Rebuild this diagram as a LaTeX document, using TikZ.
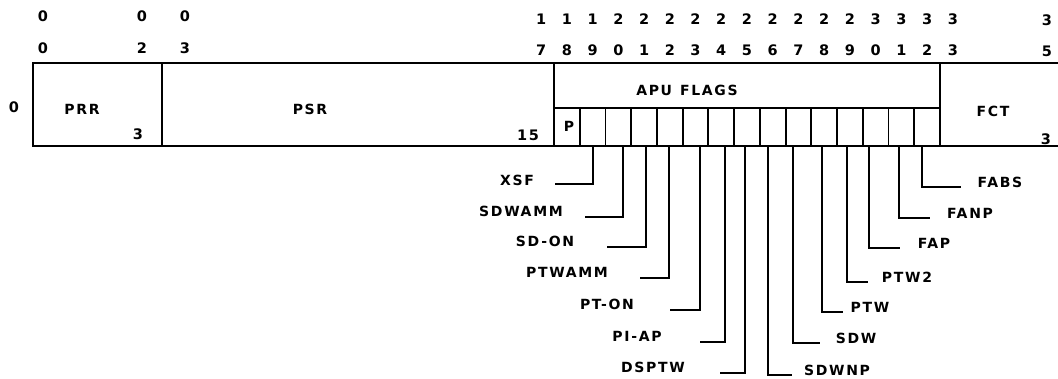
\documentclass[tikz,border=0pt]{standalone}
\usepackage{fontspec}
\setmainfont{DejaVu Sans}[LetterSpace=12]
\tikzset{
  frame/.style={line width=2.4pt},
  cellline/.style={line width=1.9pt},
  leader/.style={line width=1.9pt},
  lbl/.style={font=\bfseries\fontsize{14}{14}\selectfont, inner sep=0pt, anchor=base},
  dig/.style={font=\bfseries\fontsize{14.5}{14.5}\selectfont, inner sep=0pt, anchor=base}
}
\begin{document}
\begin{tikzpicture}[x=1pt,y=-1pt]
\useasboundingbox (0,0) rectangle (1058,379);
% frame
\draw[frame] (1058,63) -- (33,63) -- (33,146) -- (1058,146);
\draw[frame] (162,63) -- (162,146);
\draw[frame] (554,63) -- (554,146);
\draw[frame] (940,63) -- (940,146);
\draw[cellline] (554,108) -- (940,108);
\foreach \i in {1,...,14} {
  \draw[cellline] ({554+\i*25.733},108) -- ({554+\i*25.733},146);
}
% bit numbers
\node[dig] (l00a) at (43,22) {0};  \node[dig] (l00b) at (43,54) {0};
\node[dig] (l02a) at (142,22) {0}; \node[dig] (l02b) at (142,54) {2};
\node[dig] (l03a) at (185,22) {0}; \node[dig] (l03b) at (185,54) {3};
\foreach \k in {17,...,33} {
  \pgfmathtruncatemacro{\tens}{int(\k/10)}
  \pgfmathtruncatemacro{\ones}{\k-10*int(\k/10)}
  \node[dig] (b\k a) at ({554+(\k-17.5)*25.733},25) {\tens};
  \node[dig] (b\k b) at ({554+(\k-17.5)*25.733},56) {\ones};
}
\node[dig] (b35a) at (1047,26) {3}; \node[dig] (b35b) at (1047,57) {5};
% field labels
\node[dig] (row0) at (14,113) {0};
\node[lbl] (prr) at (82,115) {PRR};
\node[dig] (prr3) at (138,140) {3};
\node[lbl] (psr) at (310,115) {PSR};
\node[dig] (psr15) at (528,141) {15};
\node[lbl] (apu) at (687,96) {APU\hspace{8pt}FLAGS};
\node[lbl] (pbit) at (569,132) {P};
\node[lbl] (fct) at (993,117) {FCT};
\node[dig] (fct3) at (1046,145) {3};
% leaders and flag names
\foreach \n/\xv/\yl/\xe/\tx/\ty/\t in {
  xsf/593/184/555/517/186/XSF,
  sdwamm/623/217/585/521/217/SDWAMM,
  sdon/646/247/607/545/247/SD-ON,
  ptwamm/669/278/640/567/278/PTWAMM,
  pton/700/310/670/607/310/PT-ON,
  piap/725/342/700/637/342/PI-AP,
  dsptw/745/373/720/653/373/DSPTW,
  sdwnp/768/375/792/837/375/SDWNP,
  sdw/793/343/820/856/344/SDW,
  ptw/822/312/843/870/313/PTW,
  ptwtwo/847/282/868/907/283/PTW2,
  fap/869/248/900/934/249/FAP,
  fanp/899/218/930/970/219/FANP,
  fabs/922/187/961/1000/188/FABS} {
  \coordinate (\n-top) at (\xv,146);
  \coordinate (\n-end) at (\xe,\yl);
  \node[lbl] (\n) at (\tx,\ty) {\t};
  \draw[leader] (\n-top) |- (\n-end);
}
\end{tikzpicture}
\end{document}
